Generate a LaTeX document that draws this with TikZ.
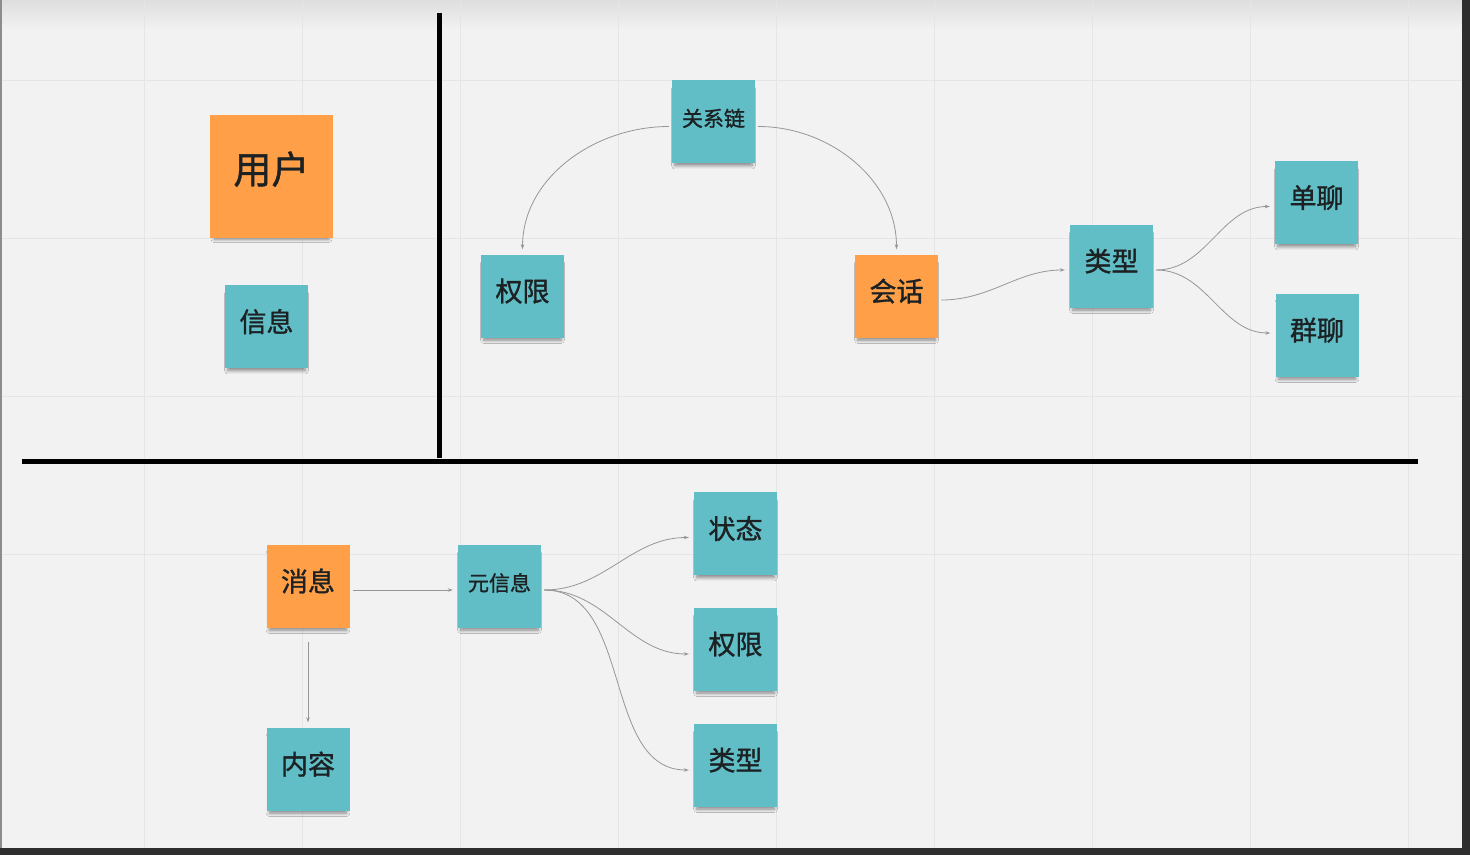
\documentclass[tikz,border=0pt]{standalone}
\usepackage{fontspec}
\newfontfamily\cjk[FakeBold=1.2]{Noto Sans CJK SC}
\usetikzlibrary{arrows.meta,shadows.blur}
\definecolor{notecyan}{RGB}{98,190,198}
\definecolor{noteorange}{RGB}{255,160,72}
\definecolor{board}{RGB}{242,242,242}
\definecolor{gridline}{RGB}{229,229,229}
\definecolor{linkgray}{RGB}{150,150,150}
\definecolor{ink}{RGB}{28,34,36}
\begin{document}
\begin{tikzpicture}[x=1pt,y=-1pt,
    note/.style={minimum width=83pt,minimum height=83pt,inner sep=0pt,text=ink,
      font=\cjk\fontsize{27}{27}\selectfont,text depth=12pt,
      blur shadow={shadow xshift=0pt,shadow yshift=-6pt,shadow scale=0.93,
        shadow opacity=45,shadow blur steps=8,shadow blur radius=3.5pt}},
    cyan note/.style={note,fill=notecyan},
    orange note/.style={note,fill=noteorange},
    small text/.style={font=\cjk\fontsize{21}{21}\selectfont,text depth=8pt},
    link/.style={draw=linkgray,line width=0.8pt,-{Stealth[length=5pt,width=3.5pt]},
      shorten >=5pt,shorten <=3pt},
    divider/.style={line width=5pt}]

      \useasboundingbox (0,0) rectangle (1470,855);
      \fill[board] (0,0) rectangle (1470,855);
      \shade[top color=black!13,bottom color=board] (0,0) rectangle (1462,30);
      \foreach \gx in {144,302,...,1408} \draw[gridline] (\gx,0) -- (\gx,848);
      \foreach \gy in {80,238,...,711} \draw[gridline] (0,\gy) -- (1462,\gy);
      \fill[black!45] (0,0) rectangle (1.5,848);
      \fill[black!82] (1462,0) rectangle (1470,855);
      \fill[black!82] (0,848) rectangle (1470,855);

      \draw[divider] (439,13) -- (439,458);
      \draw[divider] (22,461) -- (1418,461);

      \draw (271.5,176.5) node[orange note,minimum width=123pt,minimum height=123pt,
        font=\cjk\fontsize{38}{38}\selectfont,text depth=18pt] (yonghu) {用户};
      \draw (266.5,326.5) node[cyan note] (xinxi) {信息};

      \draw (713.5,121.5) node[cyan note,small text] (guanxi) {关系链};
      \draw (522.5,296) node[cyan note] (quanxianA) {权限};
      \draw (896.5,296) node[orange note] (huihua) {会话};
      \draw (1111.5,266) node[cyan note] (leixingA) {类型};
      \draw (1316.5,202.5) node[cyan note] (danliao) {单聊};
      \draw (1317,335) node[cyan note] (qunliao) {群聊};

      \draw (308,586) node[orange note] (xiaoxi) {消息};
      \draw (308,769) node[cyan note] (neirong) {内容};
      \draw (499.5,586) node[cyan note,small text] (yuanxinxi) {元信息};
      \draw (735.5,533.5) node[cyan note] (zhuangtai) {状态};
      \draw (735.5,649) node[cyan note] (quanxianB) {权限};
      \draw (735.5,765) node[cyan note] (leixingB) {类型};

      \draw[link] ([yshift=-5pt]guanxi.west) to[out=180,in=90] (quanxianA.north);
      \draw[link] ([yshift=-5pt]guanxi.east) to[out=0,in=90] (huihua.north);
      \draw[link] ([yshift=-4pt]huihua.east) to[out=0,in=180] ([yshift=-4pt]leixingA.west);
      \draw[link] ([yshift=-4pt]leixingA.east) to[out=0,in=180] ([yshift=-4pt]danliao.west);
      \draw[link] ([yshift=-4pt]leixingA.east) to[out=0,in=180] ([yshift=2pt]qunliao.west);

      \draw[link] ([yshift=-4pt]xiaoxi.east) -- ([yshift=-4pt]yuanxinxi.west);
      \draw[link,shorten <=14pt] (xiaoxi.south) -- (neirong.north);
      \draw[link] ([yshift=-4pt]yuanxinxi.east) to[out=0,in=180] ([yshift=-4pt]zhuangtai.west);
      \draw[link] ([yshift=-4pt]yuanxinxi.east) to[out=0,in=180] ([yshift=-5pt]quanxianB.west);
      \draw[link] ([yshift=-4pt]yuanxinxi.east) to[out=0,in=180] ([yshift=-5pt]leixingB.west);
    \end{tikzpicture}
\end{document}
